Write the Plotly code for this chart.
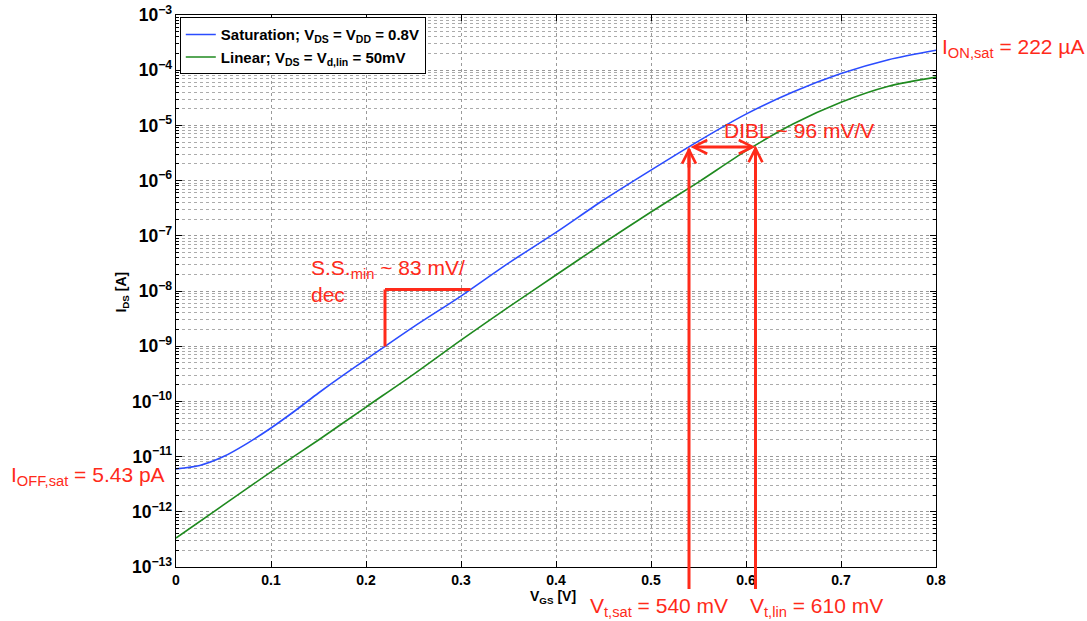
import numpy as np
import plotly.graph_objects as go

# ---------------- data ----------------
vgs_sat = [0.0, 0.025, 0.05, 0.075, 0.1, 0.125, 0.15, 0.175, 0.2, 0.25, 0.3, 0.35,
           0.4, 0.45, 0.5, 0.55, 0.6, 0.65, 0.7, 0.75, 0.8]
ids_sat = [6.0e-12, 6.9e-12, 1.0e-11, 1.74e-11, 3.3e-11, 6.7e-11, 1.42e-10, 2.9e-10,
           5.75e-10, 2.24e-9, 8.1e-9, 3.2e-8, 1.15e-7, 4.45e-7, 1.55e-6, 5.2e-6,
           1.6e-5, 4.07e-5, 8.7e-5, 1.55e-4, 2.3e-4]

vgs_lin = [0.0, 0.05, 0.1, 0.15, 0.2, 0.25, 0.3, 0.35, 0.4, 0.45, 0.5, 0.55, 0.6,
           0.65, 0.7, 0.75, 0.8]
ids_lin = [3.35e-13, 1.33e-12, 5.3e-12, 2.0e-11, 7.9e-11, 3.1e-10, 1.29e-9, 5.1e-9,
           1.95e-8, 7.4e-8, 2.7e-7, 9.4e-7, 3.45e-6, 1.07e-5, 2.63e-5, 5.13e-5, 7.5e-5]

x_ticks = [0, 0.1, 0.2, 0.3, 0.4, 0.5, 0.6, 0.7, 0.8]
y_decades = [-13, -3]          # log10 range of the axis

VT_SAT = 0.54
VT_LIN = 0.61
SS_VGS = [0.22, 0.31]

# ---------------- helpers ----------------
RED = "#ff2a1a"
BLUE = "#2b4cff"
GREEN = "#1f8a1f"
FONT = "Arial, Liberation Sans, sans-serif"


def log_i(v, xs, ys):
    return float(np.interp(v, xs, np.log10(ys)))


def to_paper(logv):
    return (logv - y_decades[0]) / (y_decades[1] - y_decades[0])


fig = go.Figure()
fig.add_trace(go.Scatter(
    x=vgs_sat, y=ids_sat, mode="lines", legendgroup="sat",
    line=dict(color=BLUE, width=1.6, shape="spline", smoothing=0.8),
    name="Saturation; V<sub>DS</sub> = V<sub>DD</sub> = 0.8V"))
fig.add_trace(go.Scatter(
    x=vgs_lin, y=ids_lin, mode="lines", legendgroup="lin",
    line=dict(color=GREEN, width=1.6, shape="spline", smoothing=0.8),
    name="Linear; V<sub>DS</sub> = V<sub>d,lin</sub> = 50mV"))

axis_font = dict(family=FONT, size=14, color="black", weight="bold")

fig.update_xaxes(
    range=[0, 0.8], tickvals=x_ticks, ticks="inside", ticklen=6, tickcolor="black",
    showline=True, linecolor="black", linewidth=1, mirror="ticks",
    showgrid=True, gridcolor="#9a9a9a", griddash="dot", gridwidth=1,
    zeroline=False, tickfont=axis_font, automargin=False,
)
fig.update_yaxes(
    type="log", range=y_decades, dtick=1, exponentformat="power",
    ticks="inside", ticklen=6, tickcolor="black",
    showline=True, linecolor="black", linewidth=1, mirror="ticks",
    showgrid=True, gridcolor="#9a9a9a", griddash="dot", gridwidth=1,
    minor=dict(dtick="D1", ticks="inside", ticklen=3, tickcolor="black",
               showgrid=True, gridcolor="#ababab", griddash="dot", gridwidth=1),
    zeroline=False, tickfont=axis_font, automargin=False,
)

# axis titles
title_font = dict(family=FONT, size=14, color="black", weight="bold")
fig.add_annotation(text="V<sub>GS</sub> [V]", xref="paper", yref="paper", x=0.496, y=-0.054,
                   xanchor="center", yanchor="middle", showarrow=False, font=title_font)
fig.add_annotation(text="I<sub>DS</sub> [A]", xref="paper", yref="paper", x=-0.0704, y=0.498,
                   xanchor="center", yanchor="middle", textangle=-90, showarrow=False,
                   font=title_font)

# ---------------- red annotations ----------------
y_dibl = log_i(VT_SAT, vgs_sat, ids_sat)
y_lin = log_i(VT_LIN, vgs_lin, ids_lin)
y_tail = y_decades[0] - 0.40     # just below the x axis

line_red = dict(color=RED, width=3)
for vx, vy in [(VT_SAT, y_dibl), (VT_LIN, y_lin)]:
    fig.add_shape(type="line", xref="x", yref="paper", x0=vx, x1=vx,
                  y0=to_paper(y_tail), y1=to_paper(vy) - 0.004, line=line_red)
    fig.add_annotation(x=vx, y=vy, xref="x", yref="y", ax=0, ay=22, axref="pixel",
                       ayref="pixel", showarrow=True, text="", arrowcolor=RED,
                       arrowwidth=3, arrowhead=5, arrowsize=0.9)

fig.add_annotation(x=VT_LIN, y=y_dibl, ax=VT_SAT, ay=y_dibl, xref="x", yref="y",
                   axref="x", ayref="y", showarrow=True, text="", arrowcolor=RED,
                   arrowwidth=3, arrowhead=5, arrowsize=0.9, arrowside="end+start",
                   startarrowhead=5, startarrowsize=0.9)

# subthreshold slope bracket
ss_lo = to_paper(log_i(SS_VGS[0], vgs_sat, ids_sat))
ss_hi = to_paper(log_i(SS_VGS[1], vgs_sat, ids_sat))
fig.add_shape(type="line", xref="x", yref="paper", x0=SS_VGS[0], x1=SS_VGS[0],
              y0=ss_lo, y1=ss_hi, line=line_red)
fig.add_shape(type="line", xref="x", yref="paper", x0=SS_VGS[0], x1=SS_VGS[1],
              y0=ss_hi, y1=ss_hi, line=line_red)

tfont = dict(family=FONT, size=21, color=RED)
labels = [
    ("I<sub>OFF,sat</sub> = 5.43 pA", -0.220, 0.164),
    ("I<sub>ON,sat</sub> = 222 µA", 1.005, 0.940),
    ("V<sub>t,sat</sub> = 540 mV", 0.542, -0.073),
    ("V<sub>t,lin</sub> = 610 mV", 0.752, -0.073),
    ("DIBL ~ 96 mV/V", 0.719, 0.790),
    ("S.S.<sub>min</sub> ~ 83 mV/<br>dec", 0.175, 0.518),
]
for txt, px, py in labels:
    fig.add_annotation(text=txt, xref="paper", yref="paper", x=px, y=py,
                       xanchor="left", yanchor="middle", align="left",
                       showarrow=False, font=tfont)

fig.update_layout(
    width=1087, height=621,
    margin=dict(l=176, r=151, t=15, b=54, autoexpand=False),
    paper_bgcolor="white", plot_bgcolor="white",
    font=dict(family=FONT, color="black"),
    legend=dict(x=0.005, y=0.996, xanchor="left", yanchor="top",
                bgcolor="white", bordercolor="black", borderwidth=1,
                font=dict(family=FONT, size=15, color="black", weight="bold"),
                tracegroupgap=0, itemwidth=30),
    showlegend=True,
)

fig.write_html("out.html")
